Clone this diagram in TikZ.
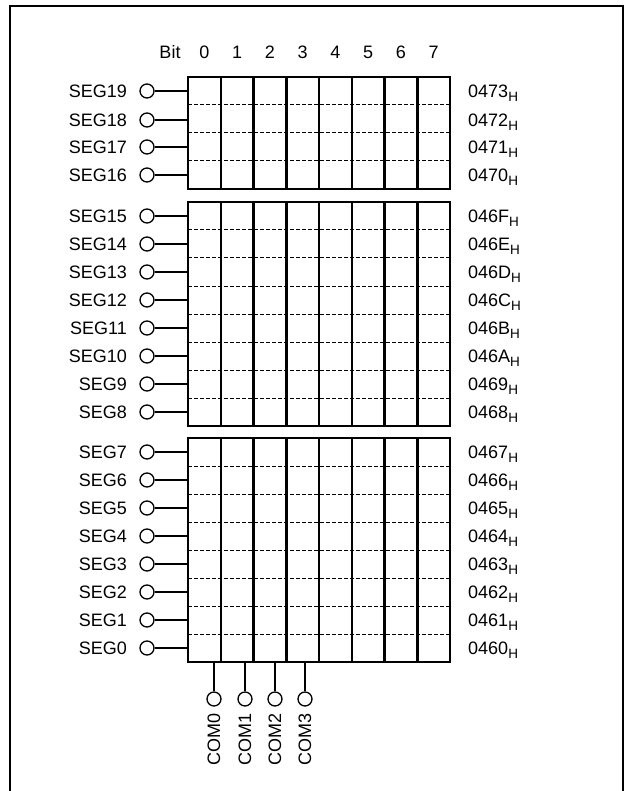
\documentclass[tikz,border=0pt]{standalone}
\usepackage{fontspec}
\setmainfont{Liberation Sans}
\usetikzlibrary{positioning}
\newcommand{\hsub}{\raisebox{-4pt}{\fontsize{13.5}{14}\selectfont H}}
\tikzset{
  frame/.style={line width=1.4pt},
  cellline/.style={line width=2.5pt},
  rowline/.style={line width=1pt,dash pattern=on 3.5pt off 2.5pt},
  wire/.style={line width=2.2pt},
  pin/.style={circle,draw,line width=1.3pt,inner sep=0pt,minimum size=14pt},
  segname/.style={anchor=base east,inner sep=0pt},
  addr/.style={anchor=base west,inner sep=0pt},
  comname/.style={rotate=90,anchor=east,inner sep=0pt},
}

\begin{document}
\begin{tikzpicture}[x=1pt,y=-1pt,font=\fontsize{18}{21}\selectfont]
  \useasboundingbox (0,0) rectangle (629,791);
  % outer frame, open at the bottom
  \draw[frame] (10,791) -- (10,6) -- (623,6) -- (623,791);
  % bit numbers
  \node[anchor=base] (bit) at (170,59) {Bit};
  \foreach \b in {0,...,7}
    \node[anchor=base] (b\b) at ({188+(\b+0.5)*32.75},59) {\b};
  % the three register blocks
  \foreach \ytop/\nrow in {77/3,202/7,438/7} {
    \foreach \k in {1,...,\nrow}
      \draw[rowline] (188,\ytop+28*\k) -- (450,\ytop+28*\k);
    \foreach \c in {1,...,7}
      \draw[cellline] ({188+32.75*\c},\ytop) -- ({188+32.75*\c},{\ytop+28*(\nrow+1)});
    \draw[cellline] (188,\ytop) rectangle (450,{\ytop+28*(\nrow+1)});
  }
  % segment pins and addresses
  \foreach \i/\y/\a in {19/91/0473,18/120/0472,17/147/0471,16/175/0470,
      15/216/046F,14/244/046E,13/272/046D,12/300/046C,
      11/328/046B,10/356/046A,9/384/0469,8/412/0468,
      7/452/0467,6/480/0466,5/508/0465,4/536/0464,
      3/564/0463,2/592/0462,1/620/0461,0/648/0460} {
    \node[pin] (seg\i) at (147,\y) {};
    \node[segname] (lbl\i) at (127,\y+6.5) {SEG\i};
    \coordinate (in\i) at (188,\y);
    \draw[wire] (seg\i) -- (in\i);
    \node[addr] (adr\i) at (468,\y+6.5) {\a\hsub};
  }
  % common pins
  \foreach \j/\x in {0/214,1/245,2/275,3/305} {
    \coordinate (out\j) at (\x,662);
    \node[pin] (com\j) at (\x,699) {};
    \draw[wire] (out\j) -- (com\j);
    \node[comname] (cl\j) at (\x,713) {COM\j};
  }
\end{tikzpicture}
\end{document}
